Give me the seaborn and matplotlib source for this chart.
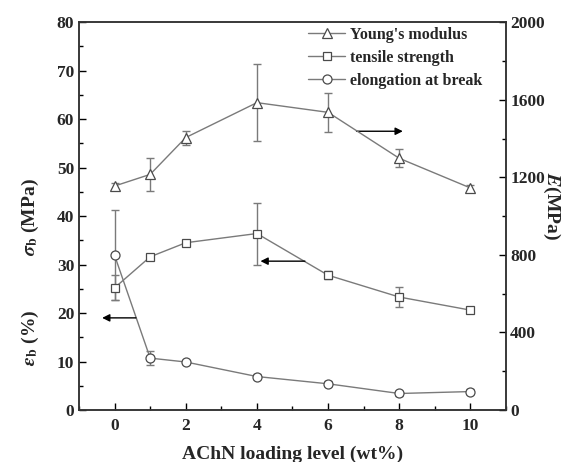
import matplotlib

matplotlib.use("Agg")

import matplotlib.pyplot as plt
import numpy as np
import pandas as pd
import seaborn as sns
from matplotlib.lines import Line2D
from matplotlib.ticker import MultipleLocator

# values
loading = [0, 1, 2, 4, 6, 8, 10]
modulus = [1155, 1215, 1405, 1585, 1535, 1298, 1145]
modulus_err = [15, 87, 36, 198, 99, 47, 16]
strength = [25.2, 31.6, 34.5, 36.4, 27.8, 23.3, 20.6]
strength_err = [2.6, 0.5, 0.6, 6.4, 0.8, 2.1, 0.4]
elongation = [31.9, 10.7, 9.9, 6.9, 5.4, 3.4, 3.8]
elongation_err = [9.3, 1.5, 0.5, 0.6, 0.5, 0.5, 0.5]

sns.set_style("ticks")
plt.rcParams["font.family"] = ["Liberation Serif", "DejaVu Serif"]
plt.rcParams["font.weight"] = "bold"
plt.rcParams["mathtext.fontset"] = "stix"

line_color = "#7a7a7a"
edge_color = "#4a4a4a"

fig = plt.figure(figsize=(5.78, 4.62), dpi=100)
ax = fig.add_axes([0.1367, 0.1126, 0.7387, 0.8394])
ax2 = ax.twinx()

frame = pd.DataFrame(
    {
        "loading": loading,
        "modulus": modulus,
        "strength": strength,
        "elongation": elongation,
    }
)

marker_kw = dict(markerfacecolor="white", markeredgecolor=edge_color, markeredgewidth=0.9)

sns.lineplot(data=frame, x="loading", y="strength", ax=ax, color=line_color, linewidth=1,
             marker="s", markersize=6, legend=False, **marker_kw)
ax.errorbar(loading, strength, yerr=strength_err, fmt="none", ecolor=line_color, elinewidth=1, capsize=3, zorder=1)

sns.lineplot(data=frame, x="loading", y="elongation", ax=ax, color=line_color, linewidth=1,
             marker="o", markersize=6.5, legend=False, **marker_kw)
ax.errorbar(loading, elongation, yerr=elongation_err, fmt="none", ecolor=line_color, elinewidth=1, capsize=3, zorder=1)

sns.lineplot(data=frame, x="loading", y="modulus", ax=ax2, color=line_color, linewidth=1,
             marker="^", markersize=7, legend=False, **marker_kw)
ax2.errorbar(loading, modulus, yerr=modulus_err, fmt="none", ecolor=line_color, elinewidth=1, capsize=3, zorder=1)

ax.set_xlim(-1, 11)
ax.set_ylim(0, 80)
ax2.set_ylim(0, 2000)
ax.set_xticks([0, 2, 4, 6, 8, 10])
ax.xaxis.set_minor_locator(MultipleLocator(1))
ax.yaxis.set_major_locator(MultipleLocator(10))
ax.yaxis.set_minor_locator(MultipleLocator(5))
ax2.yaxis.set_major_locator(MultipleLocator(400))
ax2.yaxis.set_minor_locator(MultipleLocator(200))

for a in (ax, ax2):
    a.tick_params(which="major", direction="in", length=5, width=1, labelsize=12.5, color="black")
    a.tick_params(which="minor", direction="in", length=3, width=1, color="black")
    for spine in a.spines.values():
        spine.set_visible(True)
        spine.set_linewidth(1.1)
        spine.set_color("#333333")
    for label in a.get_xticklabels() + a.get_yticklabels():
        label.set_fontweight("bold")
ax.tick_params(axis="y", right=False)
ax2.tick_params(axis="y", left=False, pad=3)
ax.tick_params(axis="x", top=False, pad=6)

ax.set_ylabel("")
ax2.set_ylabel("")
ax.set_xlabel("AChN loading level (wt%)", fontsize=14, fontweight="bold", labelpad=8)

fig.text(0.052, 0.53, r"$\mathbfit{\sigma}_\mathbf{b}$ (MPa)", rotation=90, ha="center", va="center", fontsize=14)
fig.text(0.052, 0.268, r"$\mathbfit{\varepsilon}_\mathbf{b}$ (%)", rotation=90, ha="center", va="center", fontsize=14)
fig.text(0.955, 0.555, r"$\mathit{E}$(MPa)", rotation=270, ha="center", va="center", fontsize=14, fontweight="bold")

arrow_kw = dict(arrowstyle="-|>", color="black", lw=1, mutation_scale=11, shrinkA=0, shrinkB=0)
ax.annotate("", xy=(8.1, 57.5), xytext=(6.8, 57.5), arrowprops=arrow_kw)
ax.annotate("", xy=(4.1, 30.7), xytext=(5.35, 30.7), arrowprops=arrow_kw)
ax.annotate("", xy=(-0.35, 19.0), xytext=(0.6, 19.0), arrowprops=arrow_kw)

handles = [
    Line2D([], [], color=line_color, linewidth=1, marker="^", markersize=7, **marker_kw),
    Line2D([], [], color=line_color, linewidth=1, marker="s", markersize=6, **marker_kw),
    Line2D([], [], color=line_color, linewidth=1, marker="o", markersize=6.5, **marker_kw),
]
labels = ["Young's modulus", "tensile strength", "elongation at break"]
leg = ax2.legend(handles, labels, loc="upper left", bbox_to_anchor=(0.522, 1.005), frameon=False,
                 prop={"size": 11.5, "weight": "bold"}, handlelength=2.3, handletextpad=0.3,
                 labelspacing=0.45, borderaxespad=0.0)

fig.savefig("out.png", dpi=100)
